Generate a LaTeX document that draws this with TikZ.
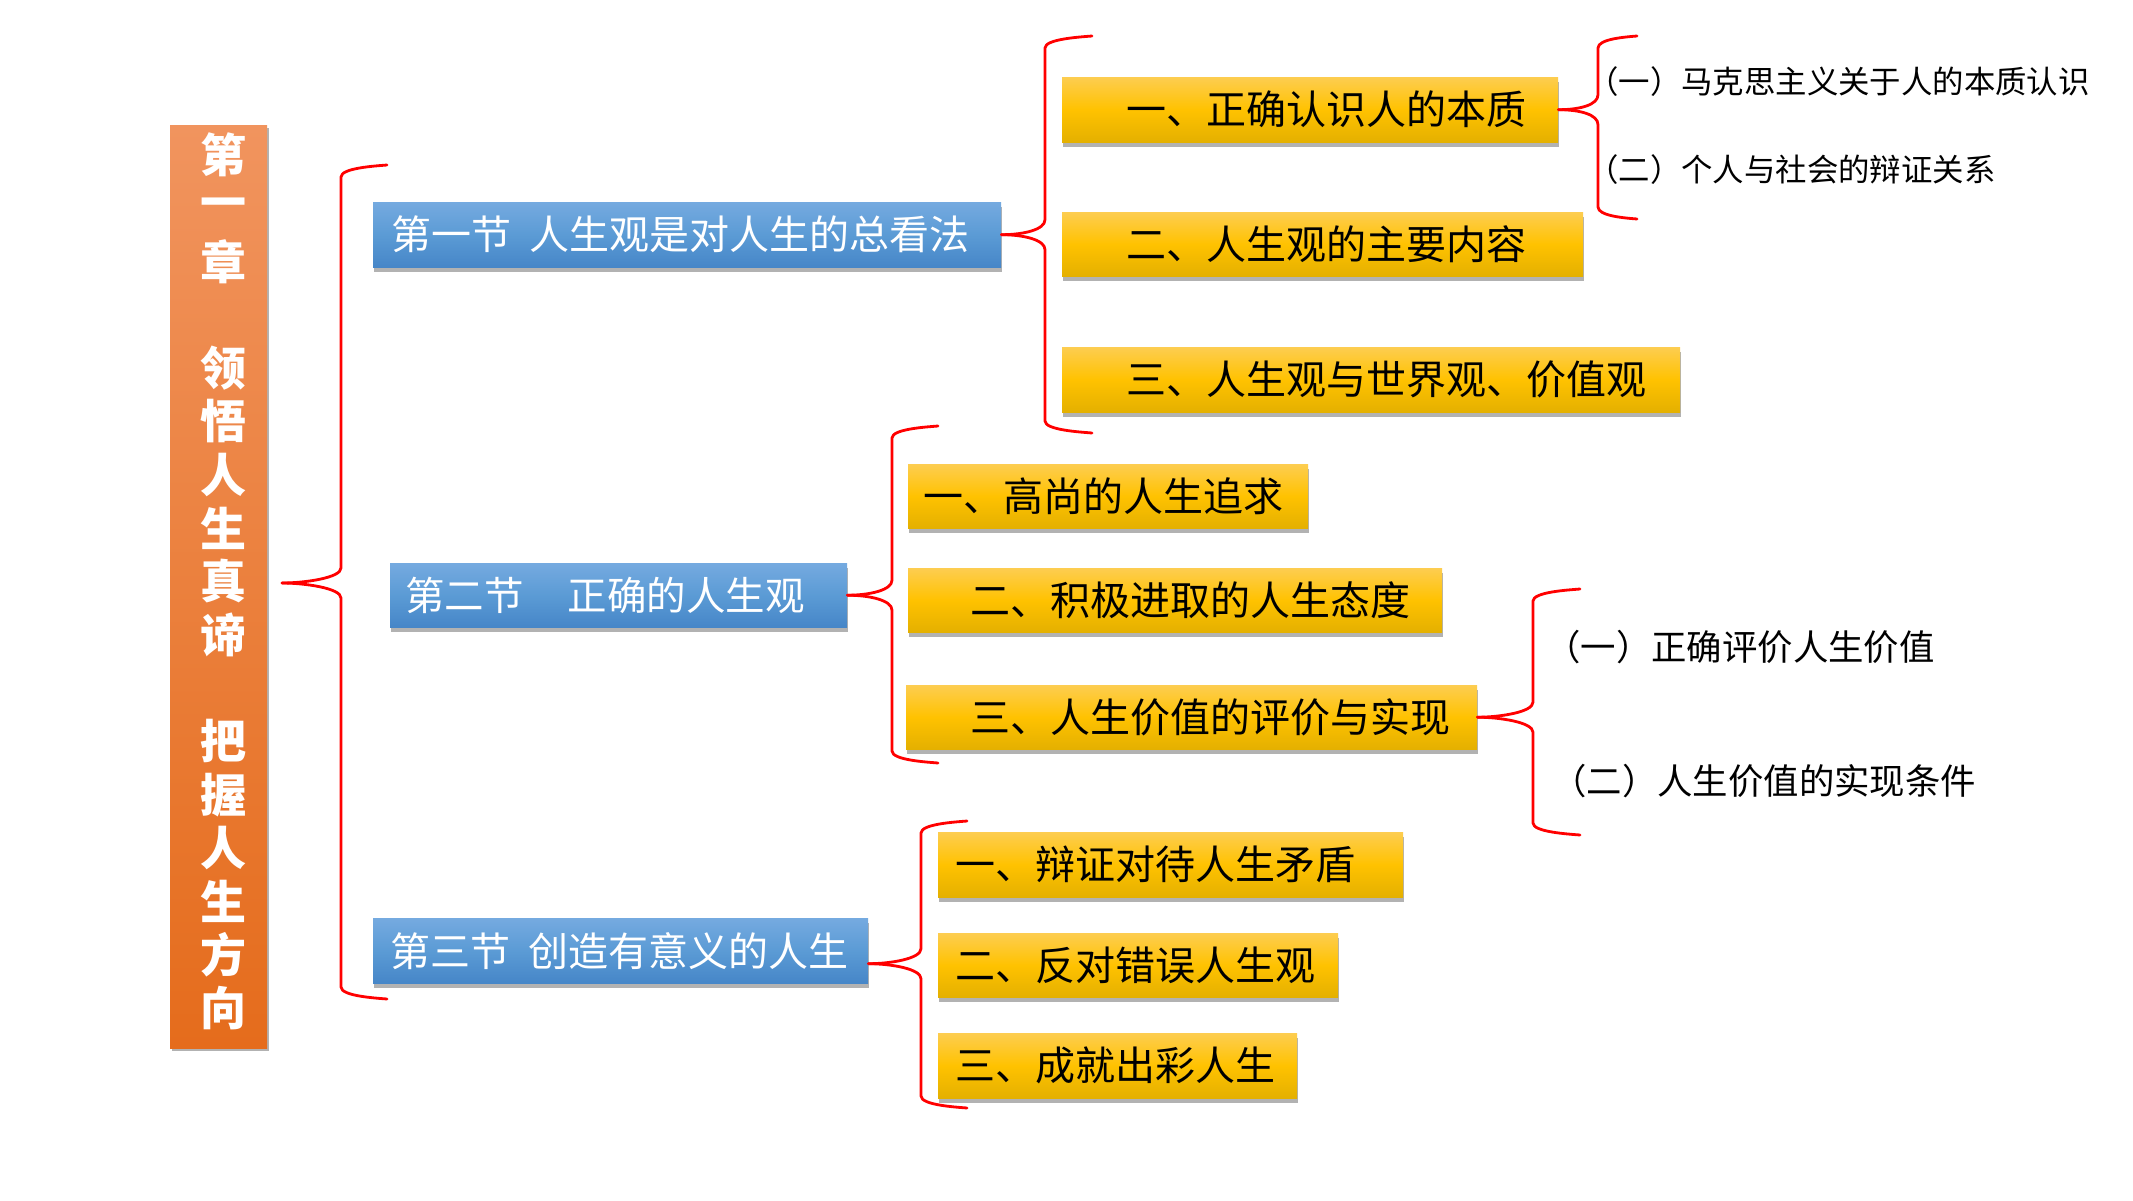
\documentclass[tikz,border=0pt]{standalone}
\usepackage{fontspec}
\newfontfamily\cjk{Noto Sans CJK SC}
\usetikzlibrary{shadows,calc}
\definecolor{ytop}{RGB}{253,205,80}
\definecolor{ymid}{RGB}{255,194,0}
\definecolor{ybot}{RGB}{228,176,0}
\definecolor{btop}{RGB}{117,170,224}
\definecolor{bmid}{RGB}{91,155,213}
\definecolor{bbot}{RGB}{70,134,200}
\definecolor{otop}{RGB}{241,148,94}
\definecolor{obot}{RGB}{229,108,28}
\definecolor{bracered}{RGB}{255,0,0}
% #1 tip coordinate, #2 line x, #3 top y, #4 bottom y, #5 end x
\newcommand\drawbrace[5]{%
  \coordinate (bline) at (#2,0);
  \draw[bracestyle] (#1) .. controls +(22,0) and +(0,10) .. ($(#1 -| bline)+(0,-15)$)
     -- (#2,{#3+12}) .. controls +(0,-9) and +(-12,1) .. (#5,#3);
  \draw[bracestyle] (#1) .. controls +(22,0) and +(0,-10) .. ($(#1 -| bline)+(0,15)$)
     -- (#2,{#4-12}) .. controls +(0,9) and +(-12,-1) .. (#5,#4);
}
\begin{document}
\begin{tikzpicture}[x=1pt,y=-1pt,
  bracestyle/.style={draw=bracered, line width=2.8pt, line cap=round, line join=round},
  boxbase/.style={anchor=north west, inner xsep=0pt, inner ysep=0pt, align=left,
    drop shadow={shadow xshift=0.5pt, shadow yshift=-4.5pt, opacity=0.3, fill=black}},
  ybox/.style={boxbase, top color=ytop, bottom color=ybot, middle color=ymid, text=black,
    font=\cjk\fontsize{40}{44}\selectfont},
  bbox/.style={boxbase, top color=btop, bottom color=bbot, middle color=bmid, text=white},
  obox/.style={anchor=north west, inner sep=0pt, top color=otop, bottom color=obot,
    drop shadow={shadow xshift=1.5pt, shadow yshift=-3pt, opacity=0.3, fill=black}},
  otext/.style={text=white, inner sep=0pt, font=\cjk\bfseries\fontsize{46}{46}\selectfont},
  side/.style={anchor=west, inner sep=0pt, text=black}
]
\useasboundingbox (0,0) rectangle (2133,1200);
\fill[white] (0,0) rectangle (2133,1200);

% chapter bar
\node[obox, minimum width=97pt, minimum height=923pt] (chap) at (170,125) {};
\foreach \c/\i in {第/0,一/1,章/2,领/4,悟/5,人/6,生/7,真/8,谛/9,把/11,握/12,人/13,生/14,方/15,向/16}
  \node[otext] (oc\i) at (223,{155+\i*53.3}) {\c};

% sections
\node[bbox, minimum height=65pt, text width=628pt, font=\cjk\fontsize{40}{44}\selectfont] (s1) at (373,202)
  {\hspace*{18pt}第一节\hspace{18pt}人生观是对人生的总看法};
\node[bbox, minimum height=64pt, text width=457pt, font=\cjk\fontsize{39.5}{44}\selectfont] (s2) at (390,563)
  {\hspace*{15pt}第二节\hspace{44pt}正确的人生观};
\node[bbox, minimum height=65pt, text width=495pt, font=\cjk\fontsize{40}{44}\selectfont] (s3) at (373,918)
  {\hspace*{17pt}第三节\hspace{18pt}创造有意义的人生};

% section 1 items
\node[ybox, minimum height=65pt, text width=496pt] (y1) at (1062,77) {\hspace*{64pt}一、正确认识人的本质};
\node[ybox, minimum height=64pt, text width=521pt] (y2) at (1062,212) {\hspace*{64pt}二、人生观的主要内容};
\node[ybox, minimum height=65pt, text width=618pt] (y3) at (1062,347) {\hspace*{64pt}三、人生观与世界观、价值观};

% section 2 items
\node[ybox, minimum height=64pt, text width=400pt] (y4) at (908,464) {\hspace*{15pt}一、高尚的人生追求};
\node[ybox, minimum height=64pt, text width=534pt] (y5) at (908,568) {\hspace*{62pt}二、积极进取的人生态度};
\node[ybox, minimum height=64pt, text width=571pt] (y6) at (906,685) {\hspace*{64pt}三、人生价值的评价与实现};

% section 3 items
\node[ybox, minimum height=65pt, text width=465pt] (y7) at (938,832) {\hspace*{17pt}一、辩证对待人生矛盾};
\node[ybox, minimum height=64pt, text width=400pt] (y8) at (938,933) {\hspace*{17pt}二、反对错误人生观};
\node[ybox, minimum height=65pt, text width=359pt] (y9) at (938,1033) {\hspace*{17pt}三、成就出彩人生};

% side texts
\node[side, font=\cjk\fontsize{31.4}{34}\selectfont] (t11) at (1587,82) {（一）马克思主义关于人的本质认识};
\node[side, font=\cjk\fontsize{31.4}{34}\selectfont] (t12) at (1587,170) {（二）个人与社会的辩证关系};
\node[side, font=\cjk\fontsize{35.4}{38}\selectfont] (t61) at (1545,647) {（一）正确评价人生价值};
\node[side, font=\cjk\fontsize{35.4}{38}\selectfont] (t62) at (1551,781) {（二）人生价值的实现条件};

% brace tips
\coordinate (mtip) at (282,583);
\coordinate (s3tip) at ($(s3.east)+(0,13)$);

% braces
\drawbrace{mtip}{341}{165}{999}{387}
\drawbrace{s1.east}{1045}{36}{433}{1092}
\drawbrace{s2.east}{892}{426}{763}{938}
\drawbrace{s3tip}{921}{821}{1108}{967}
\drawbrace{y1.east}{1598}{36}{219}{1637}
\drawbrace{y6.east}{1533}{589}{835}{1580}
\end{tikzpicture}
\end{document}
